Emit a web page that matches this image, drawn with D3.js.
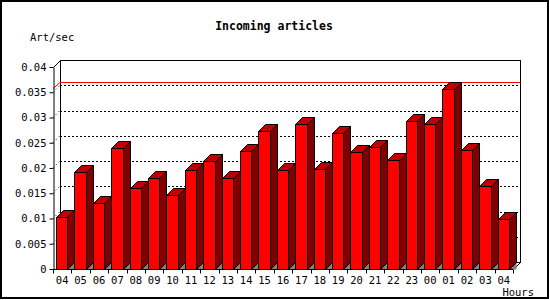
<!DOCTYPE html>
<html>
<head>
<meta charset="utf-8">
<script src="https://cdn.jsdelivr.net/npm/d3@7"></script>
<style>
  body { margin: 0; background: #fff; }
  text { font-family: "DejaVu Sans Mono", monospace; }
</style>
</head>
<body>
<script>
// hours shown on the x axis (the day wraps round, so "04" is there twice)
let hours = ["04", "05", "06", "07", "08", "09", "10", "11", "12", "13", "14", "15",
  "16", "17", "18", "19", "20", "21", "22", "23", "00", "01", "02", "03", "04"];

// articles per second
let rates = [0.0102, 0.0192, 0.0130, 0.0239, 0.0160, 0.0180, 0.0146, 0.0197, 0.0214,
  0.0180, 0.0233, 0.0273, 0.0197, 0.0287, 0.0199, 0.0269, 0.0231, 0.0241, 0.0216,
  0.0294, 0.0288, 0.0357, 0.0235, 0.0164, 0.0099];

let yTicks = [0, 0.005, 0.01, 0.015, 0.02, 0.025, 0.03, 0.035, 0.04];

let W = 550, H = 300;
let depth = 7; // 3d offset, both x and y
let plotLeft = 53, plotRight = 513, plotBottom = 269, plotTop = 67;

let svg = d3.select("body").append("svg")
  .attr("width", W)
  .attr("height", H);

// outer frame
svg.append("rect")
  .attr("x", 1).attr("y", 1)
  .attr("width", W - 3).attr("height", H - 3)
  .style("fill", "#fff")
  .style("stroke", "#000")
  .style("stroke-width", 2);

let x = d3.scaleBand()
  .domain(d3.range(hours.length))
  .range([plotLeft, plotRight])
  .padding(0);

let y = d3.scaleLinear()
  .domain([0, 0.04])
  .range([plotBottom, plotTop]);

/* back wall, side wall and floor outlines */
let back = svg.append("g");
back.append("rect")
  .attr("x", plotLeft + depth + 0.5).attr("y", y(0.04) - depth + 0.5)
  .attr("width", plotRight - plotLeft).attr("height", y(0) - y(0.04))
  .style("fill", "none")
  .style("stroke", "#000");

// slanted edges
let edges = [
  [plotLeft, y(0.04), plotLeft + depth, y(0.04) - depth],
  [plotRight, y(0), plotRight + depth, y(0) - depth]
];
for (var e of edges) {
  back.append("line")
    .attr("x1", e[0] + 0.5).attr("y1", e[1] + 0.5)
    .attr("x2", e[2] + 0.5).attr("y2", e[3] + 0.5)
    .style("stroke", "#000");
}

// dotted grid on back wall + short dotted marks on side wall
for (var t of yTicks.slice(1, -1)) {
  back.append("line")
    .attr("x1", plotLeft + depth).attr("x2", plotRight + depth)
    .attr("y1", Math.round(y(t) - depth) + 0.5)
    .attr("y2", Math.round(y(t) - depth) + 0.5)
    .style("stroke", "#000")
    .style("stroke-dasharray", "2,2");
  back.append("line")
    .attr("x1", plotLeft).attr("y1", y(t))
    .attr("x2", plotLeft + depth).attr("y2", y(t) - depth)
    .style("stroke", "#000")
    .style("stroke-dasharray", "1,3");
}

// maximum line in red
let maxRate = d3.max(rates);
back.append("polyline")
  .attr("points", [
    [plotLeft, y(maxRate)],
    [plotLeft + depth, Math.round(y(maxRate) - depth) + 0.5],
    [plotRight + depth, Math.round(y(maxRate) - depth) + 0.5]
  ].join(" "))
  .style("fill", "none")
  .style("stroke", "#ff0000");

/* 3d bars */
let bars = svg.append("g");
rates.forEach(function(v, i) {
  let x0 = Math.round(x(i) + 3) + 0.5;
  let x1 = Math.round(x(i) + x.bandwidth() - 4) + 0.5;
  let yt = Math.round(y(v)) + 0.5, yb = y(0) + 0.5;

  // floor shadow under the side face
  bars.append("polygon")
    .attr("points", [[x1, yb], [x1 + depth, yb - depth], [x1 + depth, yb]].join(" "))
    .style("fill", "#808080");

  // side face
  bars.append("polygon")
    .attr("points", [[x1, yt], [x1 + depth, yt - depth], [x1 + depth, yb - depth], [x1, yb]].join(" "))
    .style("fill", "#800000")
    .style("stroke", "#000");

  // top face
  bars.append("polygon")
    .attr("points", [[x0, yt], [x0 + depth, yt - depth], [x1 + depth, yt - depth], [x1, yt]].join(" "))
    .style("fill", "#c00000")
    .style("stroke", "#000");

  // front face
  bars.append("rect")
    .attr("x", x0).attr("y", yt)
    .attr("width", x1 - x0).attr("height", yb - yt)
    .style("fill", "#ff0000")
    .style("stroke", "#000");
});

/* axes */
let yAxis = svg.append("g")
  .attr("transform", "translate(" + (plotLeft + 0.5) + ",0)")
  .call(d3.axisLeft(y)
    .tickValues(yTicks)
    .tickSize(4)
    .tickSizeOuter(0)
    .tickPadding(3)
    .tickFormat(d => String(+d.toFixed(3))));
yAxis.selectAll("text")
  .style("font-family", "DejaVu Sans Mono")
  .style("font-size", "10.5px")
  .style("fill", "#000");

let xAxis = svg.append("g")
  .attr("transform", "translate(0," + (plotBottom + 0.5) + ")")
  .call(d3.axisBottom(x)
    .tickSize(0)
    .tickSizeOuter(0)
    .tickPadding(7)
    .tickFormat(i => hours[i]));
xAxis.select(".domain").attr("d", "M" + plotLeft + ",0H" + plotRight);
xAxis.selectAll("text")
  .style("font-family", "DejaVu Sans Mono")
  .style("font-size", "10.5px")
  .style("fill", "#000");

// x ticks sit on the band edges, not the centres
let edgesX = x.domain().map(i => x(i)).concat([plotRight]);
for (var ex of edgesX) {
  xAxis.append("line")
    .attr("x1", Math.round(ex) + 0.5).attr("x2", Math.round(ex) + 0.5)
    .attr("y1", 0).attr("y2", 4)
    .style("stroke", "#000");
}

/* texts */
svg.append("text")
  .attr("x", 274)
  .attr("y", 30)
  .text("Incoming articles")
  .style("text-anchor", "middle")
  .style("font-weight", "bold")
  .style("font-size", "11.5px")
  .style("fill", "#000");

svg.append("text")
  .attr("x", 30)
  .attr("y", 41)
  .text("Art/sec")
  .style("font-size", "10.5px")
  .style("fill", "#000");

svg.append("text")
  .attr("x", 534)
  .attr("y", 296)
  .text("Hours")
  .style("text-anchor", "end")
  .style("font-size", "10.5px")
  .style("fill", "#000");
</script>
</body>
</html>
